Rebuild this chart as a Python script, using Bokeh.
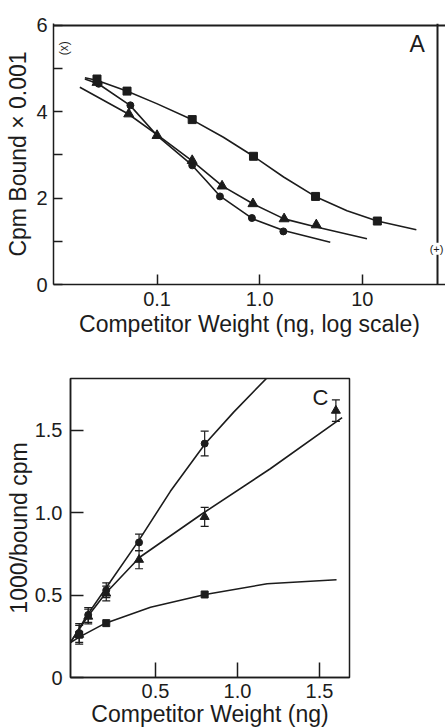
from math import pi
from bokeh.plotting import figure
from bokeh.models import Range1d, FixedTicker, Label, Whisker, ColumnDataSource, TeeHead, Span
from bokeh.embed import file_html
from bokeh.resources import INLINE

# ---------------- Panel A data (competitor weight in ng, log scale; cpm bound x 0.001)
a_sq_x = [0.026, 0.051, 0.22, 0.87, 3.5, 14]
a_sq_y = [4.76, 4.48, 3.82, 2.97, 2.04, 1.47]
a_ci_x = [0.027, 0.055, 0.22, 0.41, 0.84, 1.7]
a_ci_y = [4.65, 4.15, 2.76, 2.04, 1.54, 1.23]
a_tr_x = [0.026, 0.053, 0.10, 0.22, 0.43, 0.86, 1.73, 3.56]
a_tr_y = [4.68, 3.95, 3.45, 2.87, 2.28, 1.87, 1.52, 1.38]

# fitted curves
a_sq_cx = [0.0198, 0.0258, 0.0506, 0.0993, 0.218, 0.443, 0.87, 1.71, 3.47, 7.09, 13.96, 33.6]
a_sq_cy = [4.79, 4.73, 4.48, 4.19, 3.82, 3.41, 2.97, 2.49, 2.04, 1.71, 1.47, 1.27]
a_ci_cx = [0.0198, 0.0267, 0.0546, 0.1, 0.218, 0.30, 0.405, 0.858, 1.71, 4.87]
a_ci_cy = [4.76, 4.65, 4.15, 3.45, 2.77, 2.41, 2.06, 1.52, 1.25, 0.98]
a_tr_cx = [0.0177, 0.0525, 0.103, 0.218, 0.434, 0.86, 1.73, 3.56, 11.1]
a_tr_cy = [4.57, 3.95, 3.45, 2.87, 2.28, 1.87, 1.52, 1.33, 1.06]

a_y_ticks = [0, 2, 4, 6]
a_y_minor = [1, 3, 5]
a_x_ticks = [0.1, 1, 10]
a_x_labels = ["0.1", "1.0", "10"]
a_x_lo, a_x_hi = 0.0098, 54      # extent of the drawn box, ng
a_y_lo, a_y_hi = 0, 6

# ---------------- Panel C data (competitor weight in ng; 1000/bound cpm)
c_ci_x = [0.035, 0.09, 0.2, 0.4, 0.8]
c_ci_y = [0.27, 0.38, 0.53, 0.82, 1.42]
c_ci_err = [0.057, 0.045, 0.045, 0.05, 0.075]
c_tr_x = [0.035, 0.09, 0.2, 0.4, 0.8, 1.6]
c_tr_y = [0.26, 0.37, 0.51, 0.715, 0.975, 1.62]
c_tr_err = [0.057, 0.045, 0.045, 0.055, 0.058, 0.065]
c_sq_x = [0.035, 0.2, 0.8]
c_sq_y = [0.26, 0.33, 0.504]

c_ci_cx = [-0.02, 0.087, 0.195, 0.392, 0.591, 0.803, 0.977, 1.181]
c_ci_cy = [0.21, 0.383, 0.539, 0.822, 1.13, 1.419, 1.611, 1.82]
c_tr_cx = [-0.02, 0.087, 0.195, 0.404, 0.785, 1.2, 1.638]
c_tr_cy = [0.21, 0.37, 0.51, 0.73, 0.994, 1.267, 1.577]
c_sq_cx = [-0.02, 0.035, 0.195, 0.47, 0.803, 1.181, 1.604]
c_sq_cy = [0.21, 0.245, 0.33, 0.427, 0.504, 0.569, 0.593]

c_y_ticks = [0, 0.5, 1.0, 1.5]
c_y_labels = ["0", "0.5", "1.0", "1.5"]
c_x_ticks = [0.5, 1.0, 1.5]
c_x_labels = ["0.5", "1.0", "1.5"]

INK = "#1c1c1c"
FONT = "Liberation Sans"
TICK_FS = "20px"
TITLE_FS = "23px"


def style(p):
    p.grid.visible = False
    p.outline_line_color = INK
    p.outline_line_width = 1.5
    p.outline_line_alpha = 1.0
    p.background_fill_color = "white"
    p.border_fill_color = "white"
    for ax in (p.xaxis[0], p.yaxis[0]):
        ax.axis_line_color = INK
        ax.axis_line_width = 1.5
        ax.major_tick_line_color = INK
        ax.major_tick_line_width = 1.5
        ax.minor_tick_line_color = INK
        ax.minor_tick_line_width = 1.5
        ax.major_tick_out = 0
        ax.minor_tick_out = 0
        ax.major_label_text_font = FONT
        ax.major_label_text_font_size = TICK_FS
        ax.major_label_text_color = INK
        ax.axis_label_text_font = FONT
        ax.axis_label_text_font_size = TITLE_FS
        ax.axis_label_text_font_style = "normal"
        ax.axis_label_text_color = INK


# ---------------- Panel A
# The frame is slightly larger than the drawn box so that the "(+)" mark on the
# box's right edge is not clipped; top and right edges of the box are Spans.
p1 = figure(width=445, height=341, x_axis_type="log",
            x_range=Range1d(a_x_lo, 64.6), y_range=Range1d(0, 6.046),
            output_backend="svg", toolbar_location=None,
            min_border_left=53, min_border_right=0,
            min_border_top=23, min_border_bottom=57)
style(p1)
p1.outline_line_color = None
p1.xaxis.ticker = FixedTicker(ticks=a_x_ticks)
p1.xaxis.major_label_overrides = {t: l for t, l in zip(a_x_ticks, a_x_labels)}
p1.xaxis.major_tick_in = 10
p1.xaxis.major_label_standoff = 7
p1.xaxis.axis_label = "Competitor Weight (ng, log scale)"
p1.xaxis.axis_label_standoff = 2
p1.yaxis.ticker = FixedTicker(ticks=a_y_ticks, minor_ticks=a_y_minor)
p1.yaxis.major_tick_in = 9
p1.yaxis.minor_tick_in = 9
p1.yaxis.major_label_standoff = 6
p1.yaxis.axis_label = "Cpm Bound \u00d7 0.001"
p1.yaxis.axis_label_standoff = 2

p1.add_layout(Span(location=a_x_hi, dimension="height", line_color=INK, line_width=2))
p1.add_layout(Span(location=a_y_hi, dimension="width", line_color=INK, line_width=2))

p1.line(a_sq_cx, a_sq_cy, line_color=INK, line_width=1.6)
p1.line(a_ci_cx, a_ci_cy, line_color=INK, line_width=1.6)
p1.line(a_tr_cx, a_tr_cy, line_color=INK, line_width=1.6)
p1.scatter(a_sq_x, a_sq_y, marker="square", size=8, fill_color=INK, line_color=INK)
p1.scatter(a_ci_x, a_ci_y, marker="circle", size=7, fill_color=INK, line_color=INK)
p1.scatter(a_tr_x, a_tr_y, marker="triangle", size=10, fill_color=INK, line_color=INK)

p1.add_layout(Label(x=34.2, y=5.58, text="A", text_align="center", text_baseline="middle",
                    text_font=FONT, text_font_size="23px", text_color=INK))
p1.add_layout(Label(x=a_x_lo, y=5.47, x_offset=3, text="(x)", angle=pi / 2,
                    text_align="center", text_baseline="top",
                    text_font=FONT, text_font_size="12px", text_color=INK))
p1.add_layout(Label(x=a_x_hi, y=0.83, x_offset=-1, text="(+)",
                    text_align="center", text_baseline="middle",
                    text_font=FONT, text_font_size="11px", text_color=INK,
                    background_fill_color="white"))

# ---------------- Panel C
p2 = figure(width=445, height=390,
            x_range=Range1d(-0.018, 1.683), y_range=Range1d(0, 1.815),
            output_backend="svg", toolbar_location=None,
            min_border_left=70, min_border_right=96,
            min_border_top=37, min_border_bottom=54)
style(p2)
p2.xaxis.ticker = FixedTicker(ticks=c_x_ticks)
p2.xaxis.major_label_overrides = {t: l for t, l in zip(c_x_ticks, c_x_labels)}
p2.xaxis.major_tick_in = 15
p2.xaxis.major_label_standoff = 6
p2.xaxis.axis_label = "Competitor Weight (ng)"
p2.xaxis.axis_label_standoff = 0
p2.yaxis.ticker = FixedTicker(ticks=c_y_ticks)
p2.yaxis.major_label_overrides = {t: l for t, l in zip(c_y_ticks, c_y_labels)}
p2.yaxis.major_tick_in = 13
p2.yaxis.major_label_standoff = 8
p2.yaxis.axis_label = "1000/bound cpm"
p2.yaxis.axis_label_standoff = 0

p2.line(c_ci_cx, c_ci_cy, line_color=INK, line_width=1.6)
p2.line(c_tr_cx, c_tr_cy, line_color=INK, line_width=1.6)
p2.line(c_sq_cx, c_sq_cy, line_color=INK, line_width=1.6)

ci_src = ColumnDataSource(dict(x=c_ci_x, y=c_ci_y,
                               lo=[y - e for y, e in zip(c_ci_y, c_ci_err)],
                               hi=[y + e for y, e in zip(c_ci_y, c_ci_err)]))
tr_src = ColumnDataSource(dict(x=c_tr_x, y=c_tr_y,
                               lo=[y - e for y, e in zip(c_tr_y, c_tr_err)],
                               hi=[y + e for y, e in zip(c_tr_y, c_tr_err)]))
for src in (ci_src, tr_src):
    p2.add_layout(Whisker(source=src, base="x", lower="lo", upper="hi",
                          line_color=INK, line_width=1.2,
                          lower_head=TeeHead(size=8, line_color=INK, line_width=1.2),
                          upper_head=TeeHead(size=8, line_color=INK, line_width=1.2)))

p2.scatter("x", "y", source=ci_src, marker="circle", size=7, fill_color=INK, line_color=INK)
p2.scatter("x", "y", source=tr_src, marker="triangle", size=9, fill_color=INK, line_color=INK)
p2.scatter(c_sq_x, c_sq_y, marker="square", size=7, fill_color=INK, line_color=INK)

p2.add_layout(Label(x=1.506, y=1.70, text="C", text_align="center", text_baseline="middle",
                    text_font=FONT, text_font_size="22px", text_color=INK))

html = file_html([p1, p2], INLINE, title="Competition curves")
html = html.replace("<head>", "<head><style>html,body{overflow:hidden;}</style>", 1)
open("out.html", "w").write(html)
